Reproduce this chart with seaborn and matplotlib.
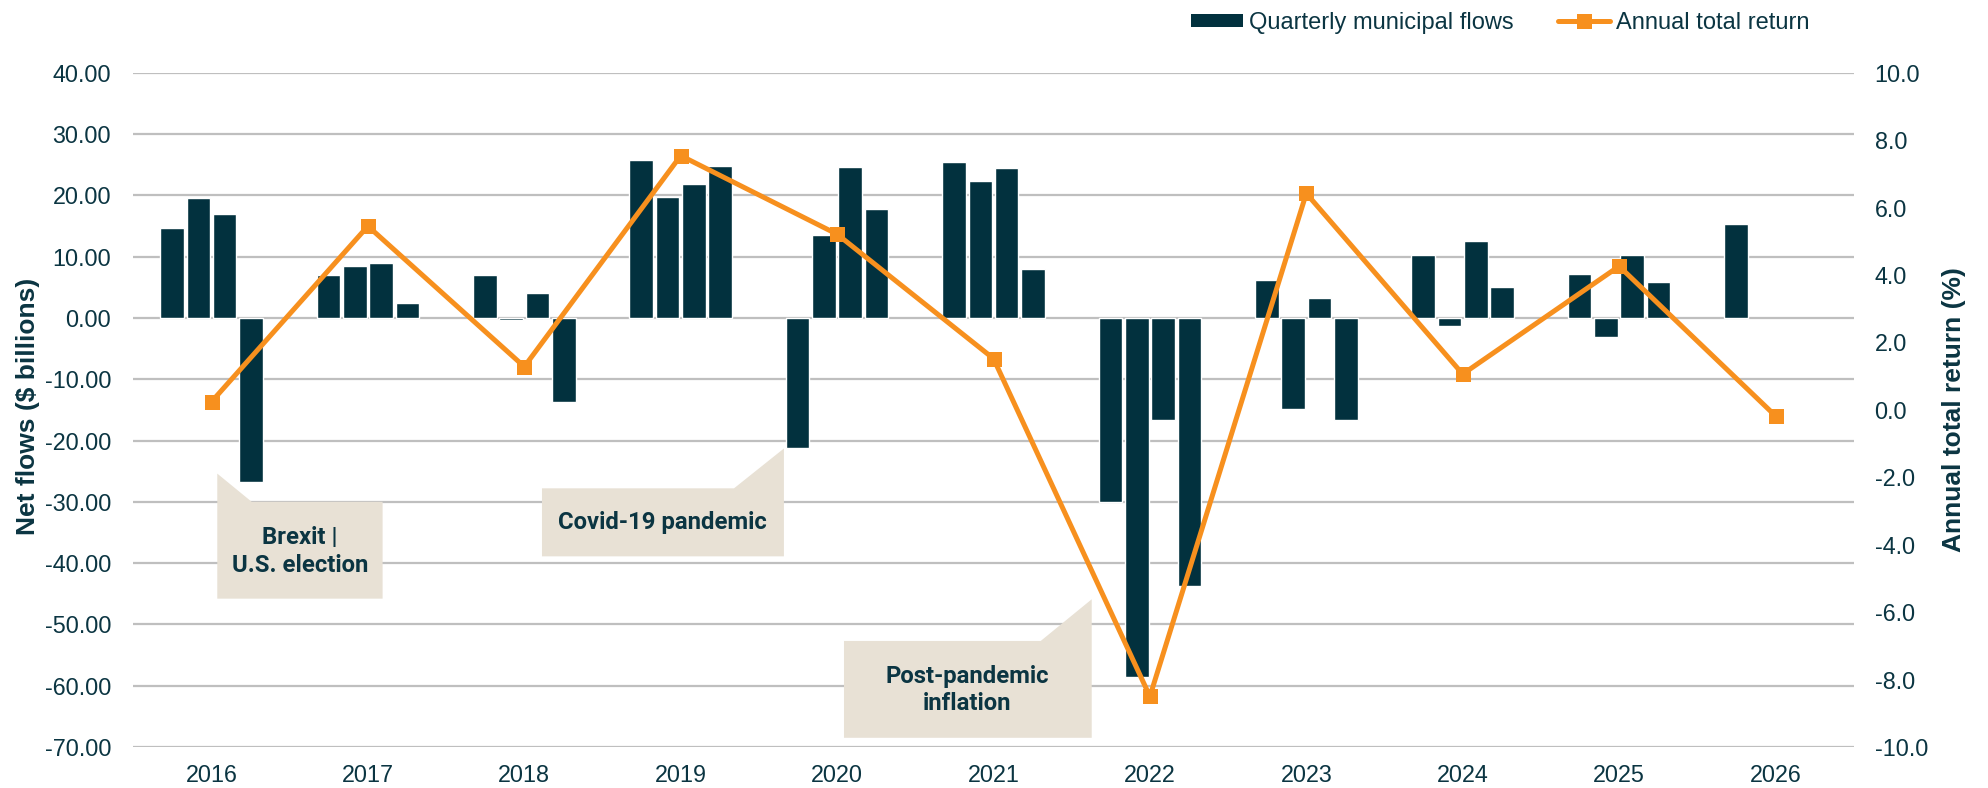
import numpy as np
import pandas as pd
import matplotlib
matplotlib.use('Agg')
import matplotlib.pyplot as plt
import seaborn as sns
from matplotlib.patches import Patch, Polygon
from matplotlib.lines import Line2D
from matplotlib.ticker import FormatStrFormatter

# --- data ---
years = ['2016', '2017', '2018', '2019', '2020', '2021', '2022', '2023', '2024', '2025', '2026']
quarters = ['Q1', 'Q2', 'Q3', 'Q4']
flows_q1 = [14.7, 7.0, 7.0, 25.8, -21.2, 25.4, -30.0, 6.2, 10.3, 7.1, 15.3]
flows_q2 = [19.5, 8.5, -0.3, 19.7, 13.5, 22.3, -58.6, -14.8, -1.3, -3.1, np.nan]
flows_q3 = [16.9, 8.9, 4.1, 21.8, 24.6, 24.5, -16.6, 3.3, 12.6, 10.3, np.nan]
flows_q4 = [-26.8, 2.5, -13.7, 24.7, 17.8, 7.9, -43.7, -16.7, 5.0, 5.9, np.nan]
annual_return = [0.24, 5.45, 1.28, 7.54, 5.21, 1.52, -8.50, 6.42, 1.06, 4.26, -0.18]

# callout texts with (x in year slots, y in $ billions) box geometry
callouts = [
    ('Brexit |\nU.S. election', (0.037, 1.094, -30.0, -45.8), ('left', 0.043, -25.4, 0.257), (0.566, -38.1)),
    ('Covid-19 pandemic', (2.113, 3.66, -27.8, -38.9), ('right', 3.656, -21.3, 3.341), (2.886, -33.4)),
    ('Post-pandemic\ninflation', (4.044, 5.628, -52.7, -68.5), ('right', 5.628, -45.9, 5.302), (4.833, -60.7)),
]

bar_color = '#02313E'
line_color = '#F7901E'
text_color = '#0B3542'
box_color = '#E8E1D5'

df = pd.DataFrame({'year': years * 4,
                   'quarter': [q for q in quarters for _ in years],
                   'flows': flows_q1 + flows_q2 + flows_q3 + flows_q4}).dropna()

sns.set_style('white')
plt.rcParams['font.family'] = ['Liberation Sans', 'DejaVu Sans']
plt.rcParams['axes.unicode_minus'] = False

W, H = 1988, 788
fig = plt.figure(figsize=(W / 100, H / 100), dpi=100)
ax = fig.add_axes([133.3 / W, 1 - 747 / H, 1720.4 / W, 674.3 / H])

sns.barplot(data=df, x='year', y='flows', hue='quarter', order=years, hue_order=quarters,
            palette=[bar_color] * 4, saturation=1, width=0.673, gap=0.1,
            legend=False, ax=ax, zorder=2)
ax.set_xlim(-0.5, len(years) - 0.5)
ax.set_ylim(-70, 40)
ax.set_yticks(np.arange(-70, 41, 10))
ax.yaxis.set_major_formatter(FormatStrFormatter('%.2f'))
ax.yaxis.grid(True, color='#BFBFBF', lw=1.6, zorder=0)
ax.set_axisbelow(True)
ax.set_xlabel('')
ax.set_ylabel('Net flows ($ billions)', fontsize=19, fontweight='bold', color=text_color)
ax.yaxis.set_label_coords(-0.0542, 0.505)
ax.tick_params(axis='y', length=0, pad=16, labelsize=16.8, labelcolor=text_color)
ax.tick_params(axis='x', length=0, pad=12, labelsize=16.8, labelcolor=text_color)
for s in ax.spines.values():
    s.set_visible(False)

# callout boxes
for label, (x0, x1, yt, yb), (side, xa, ya, xb), (tx, ty) in callouts:
    if side == 'left':
        verts = [(x0, yb), (x0, ya), (xb, yt), (x1, yt), (x1, yb)]
    else:
        verts = [(x0, yb), (x0, yt), (xb, yt), (x1, ya), (x1, yb)]
    ax.add_patch(Polygon(verts, closed=True, facecolor=box_color, edgecolor='none', zorder=3))
    ax.text(tx, ty, label, ha='center', va='center', fontsize=17.2, fontweight='bold',
            color=text_color, family=['Roboto', 'Liberation Sans'],
            linespacing=1.25, zorder=4)

ax2 = ax.twinx()
sns.lineplot(x=np.arange(len(years)), y=annual_return, ax=ax2, color=line_color, lw=3.6,
             marker='s', markersize=10.8, markeredgewidth=0, legend=False)
ax2.set_ylim(-10, 10)
ax2.set_yticks(np.arange(-10, 11, 2))
ax2.yaxis.set_major_formatter(FormatStrFormatter('%.1f'))
ax2.set_ylabel('Annual total return (%)', fontsize=19, fontweight='bold', color=text_color)
ax2.yaxis.set_label_coords(1.0516, 0.5)
ax2.tick_params(axis='y', length=0, pad=15, labelsize=16.8, labelcolor=text_color)
for s in ax2.spines.values():
    s.set_visible(False)

handles = [Patch(facecolor=bar_color, edgecolor='none'),
           Line2D([0], [0], color=line_color, lw=3.6, marker='s', markersize=10.8, markeredgewidth=0)]
fig.legend(handles, ['Quarterly municipal flows', 'Annual total return'], loc='center',
           bbox_to_anchor=(1500 / W, 1 - 23 / H), ncol=2, frameon=False, fontsize=17,
           handlelength=2.2, handleheight=0.5, handletextpad=0.25, columnspacing=1.9,
           labelcolor=text_color)

fig.savefig('out.png', dpi=100)
